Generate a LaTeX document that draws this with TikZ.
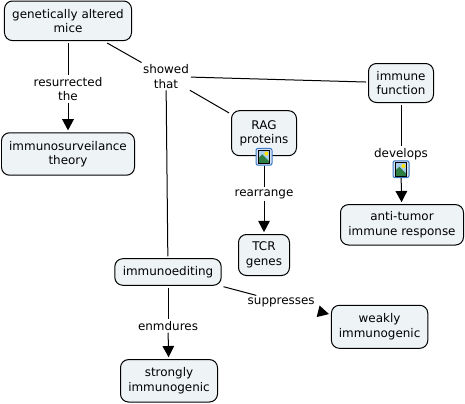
\documentclass[tikz,border=0pt]{standalone}
\usepackage{fontspec}
\setmainfont{DejaVu Sans}
\usepackage{xcolor}
\usetikzlibrary{arrows.meta,calc}
\definecolor{boxfill}{HTML}{EEF3F6}
\definecolor{iconblue}{HTML}{3A78C8}
\definecolor{iconsky}{HTML}{A8CCEC}
\definecolor{iconhill}{HTML}{2F7F45}
\newcommand{\imgicon}[2]{%
  \node[iconframe] (#1) at (#2) {};
  \fill[white] ($(#1.center)+(-0.15,-0.18)$) rectangle ($(#1.center)+(0.15,0.18)$);
  \fill[iconsky] ($(#1.center)+(-0.14,-0.17)$) rectangle ($(#1.center)+(0.14,0.17)$);
  \fill[yellow!85!orange] ($(#1.center)+(0.06,0.08)$) circle (0.05);
  \fill[iconhill] ($(#1.center)+(-0.14,-0.17)$) -- ($(#1.center)+(-0.14,-0.03)$) -- ($(#1.center)+(-0.04,0.06)$) -- ($(#1.center)+(0.14,-0.12)$) -- ($(#1.center)+(0.14,-0.17)$) -- cycle;
  \draw[line width=0.02cm] ($(#1.center)+(-0.14,-0.17)$) rectangle ($(#1.center)+(0.14,0.17)$);
}
\begin{document}
\begin{tikzpicture}[font=\fontsize{8.5}{10.3}\selectfont,
  concept/.style={draw=black,fill=boxfill,rectangle,rounded corners=0.2cm,line width=0.025cm,align=center,inner sep=0pt,outer sep=0.06cm},
  linker/.style={align=center,inner sep=0.03cm,outer sep=0.02cm},
  iconframe/.style={draw=iconblue,fill=iconblue!20,rounded corners=0.05cm,line width=0.025cm,minimum width=0.4cm,minimum height=0.42cm,inner sep=0pt},
  con/.style={line width=0.025cm},
  msg/.style={con,-{Triangle[length=0.28cm,width=0.29cm]}},
]
  \useasboundingbox (0,0) rectangle (11.625,-10.1);

  % concepts
  \foreach \name/\x/\y/\w/\h/\txt in {
    mice/1.7/-0.52/3.175/0.99/{genetically altered\\mice},
    theory/1.7/-3.85/3.325/1.06/{immunosurveilance\\theory},
    immune/10.025/-2.075/1.625/0.975/{immune\\function},
    rag/6.6/-3.33/1.625/1.125/{RAG\\proteins},
    tcr/6.6/-6.375/1.275/1.025/{TCR\\genes},
    antitumor/10.05/-5.62/3.075/1.01/{anti-tumor\\immune response},
    editing/4.2/-6.8/2.66/0.665/{immunoediting},
    weakly/9.49/-8.17/2.41/1.075/{weakly\\immunogenic},
    strongly/4.225/-9.52/2.425/1.06/{strongly\\immunogenic}} {
    \node[concept,minimum width=\w cm,minimum height=\h cm] (\name) at (\x,\y) {\txt};
  }

  % linking phrases
  \node[linker] (showed) at (4.15,-1.91) {showed\\that};
  \node[linker] (resurrected) at (1.7,-2.22) {resurrected\\the};
  \node[linker] (rearrange) at (6.6,-4.85) {rearrange};
  \node[linker] (develops) at (10.025,-3.85) {develops};
  \node[linker] (enmdures) at (4.2,-8.15) {enmdures};
  \node[linker] (suppresses) at (7.03,-7.55) {suppresses};

  % images
  \imgicon{iconrag}{6.6,-3.92}
  \imgicon{icondev}{10.025,-4.23}

  \draw[con] (mice) -- (showed);
  \draw[con] (showed) -- (immune);
  \draw[con] (showed) -- (rag);
  \draw[con] (showed) -- (editing);
  \draw[con] (mice) -- (resurrected);
  \draw[msg] (resurrected) -- (theory);
  \draw[con] (iconrag) -- (rearrange);
  \draw[msg] (rearrange) -- (tcr);
  \draw[con] (immune) -- (develops);
  \draw[msg] (icondev) -- (antitumor);
  \draw[con] (editing) -- (enmdures);
  \draw[msg] (enmdures) -- (strongly);
  \draw[con] (editing) -- (suppresses);
  \draw[msg,shorten <=0.3cm] (suppresses) -- (weakly);
\end{tikzpicture}
\end{document}
